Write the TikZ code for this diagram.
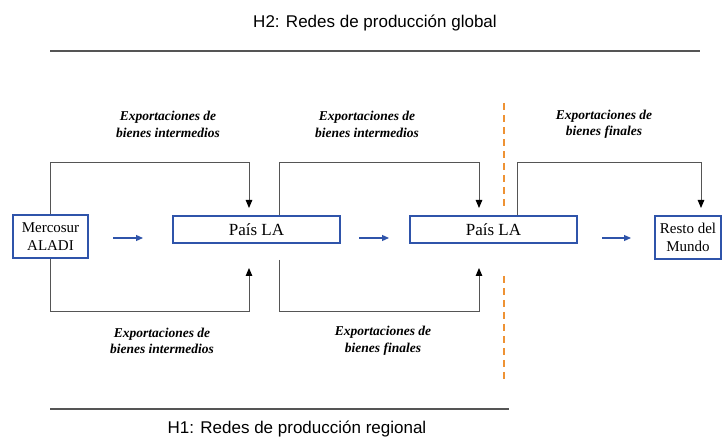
\documentclass[tikz,border=0pt]{standalone}
\usepackage{fontspec}
\setmainfont{Liberation Serif}
\newfontfamily\headfont{Liberation Sans}
\usepackage{xcolor,tikz}
\usetikzlibrary{arrows.meta,calc,positioning}
\tikzset{>={Triangle[length=8pt,width=6.5pt,color=black]}}
\definecolor{boxblue}{RGB}{47,84,170}
\definecolor{cutorange}{RGB}{238,146,52}
\definecolor{linkgray}{RGB}{85,85,85}

\begin{document}
\begin{tikzpicture}[x=1pt,y=1pt,
  region/.style={draw=boxblue,line width=2pt,inner sep=0pt,align=center,
    font=\fontsize{15}{18}\selectfont},
  pais/.style={draw=boxblue,line width=2pt,inner sep=0pt,minimum width=167pt,
    minimum height=27pt,font=\fontsize{17}{20}\selectfont},
  link/.style={draw=linkgray,line width=1pt},
  flow/.style={draw=boxblue,line width=1.2pt,-{Triangle[length=7pt,width=6pt]}},
  cut/.style={draw=cutorange,line width=2pt,dash pattern=on 7pt off 5pt},
  lbl/.style={align=center,inner sep=0pt,
    font=\fontsize{13.5}{16.5}\selectfont\bfseries\itshape},
  head/.style={inner sep=0pt,anchor=base,font=\headfont\fontsize{17}{20}\selectfont}]
\useasboundingbox (0,0) rectangle (723,444);
% headings and rules
\node[head] (h2) at (375,416) {H2: Redes de producción global};
\node[head] (h1) at (297,10) {H1: Redes de producción regional};
\draw[linkgray,line width=1.2pt] (50,393)--(700,393);
\draw[linkgray,line width=1.2pt] (50,35)--(509,35);
% boxes
\node[region,minimum width=75pt,minimum height=43pt] (merc) at (50.5,207) {Mercosur\\ALADI};
\node[pais] (pais1) at (256.5,214.5) {País LA};
\node[pais] (pais2) at (493.5,214.5) {País LA};
\node[region,minimum width=66pt,minimum height=43pt] (resto) at (688,206.5) {Resto del\\Mundo};
% levels and end points
\coordinate (toplev) at (0,281);
\coordinate (botlev) at (0,132);
\coordinate (in1top) at (249,236);
\coordinate (in1bot) at (249,176);
\coordinate (out1bot) at (279,184);
\coordinate (in2top) at (479,236);
\coordinate (in2bot) at (479,176);
% exports
\draw[link,->] (merc.north) |- (in1top |- toplev) -- (in1top);
\draw[link,->] (merc.south) |- (in1bot |- botlev) -- (in1bot);
\draw[link,->] ([xshift=22.5pt]pais1.north) |- (in2top |- toplev) -- (in2top);
\draw[link,->] (out1bot) |- (in2bot |- botlev) -- (in2bot);
\draw[link,->] ([xshift=23.5pt]pais2.north) |- ([xshift=13pt]resto.north |- toplev) -- ([xshift=13pt,yshift=7pt]resto.north);
% blue arrows
\draw[flow] ($(merc.east)+(24,-1)$) -- ++(30,0);
\draw[flow] ($(pais1.east)+(18,-8.5)$) -- ++(30,0);
\draw[flow] ($(pais2.east)+(24,-8.5)$) -- ++(29,0);
% split line
\draw[cut] (504,341)--(504,236);
\draw[cut] (504,168)--(504,64);
% labels
\node[lbl] (lab1) at (168,319.5) {Exportaciones de\\bienes intermedios};
\node[lbl] (lab2) at (367,319.5) {Exportaciones de\\bienes intermedios};
\node[lbl] (lab3) at (604,319.5) {Exportaciones de\\bienes finales};
\node[lbl] (lab4) at (162,103) {Exportaciones de\\bienes intermedios};
\node[lbl] (lab5) at (383,103) {Exportaciones de\\bienes finales};
\end{tikzpicture}
\end{document}
